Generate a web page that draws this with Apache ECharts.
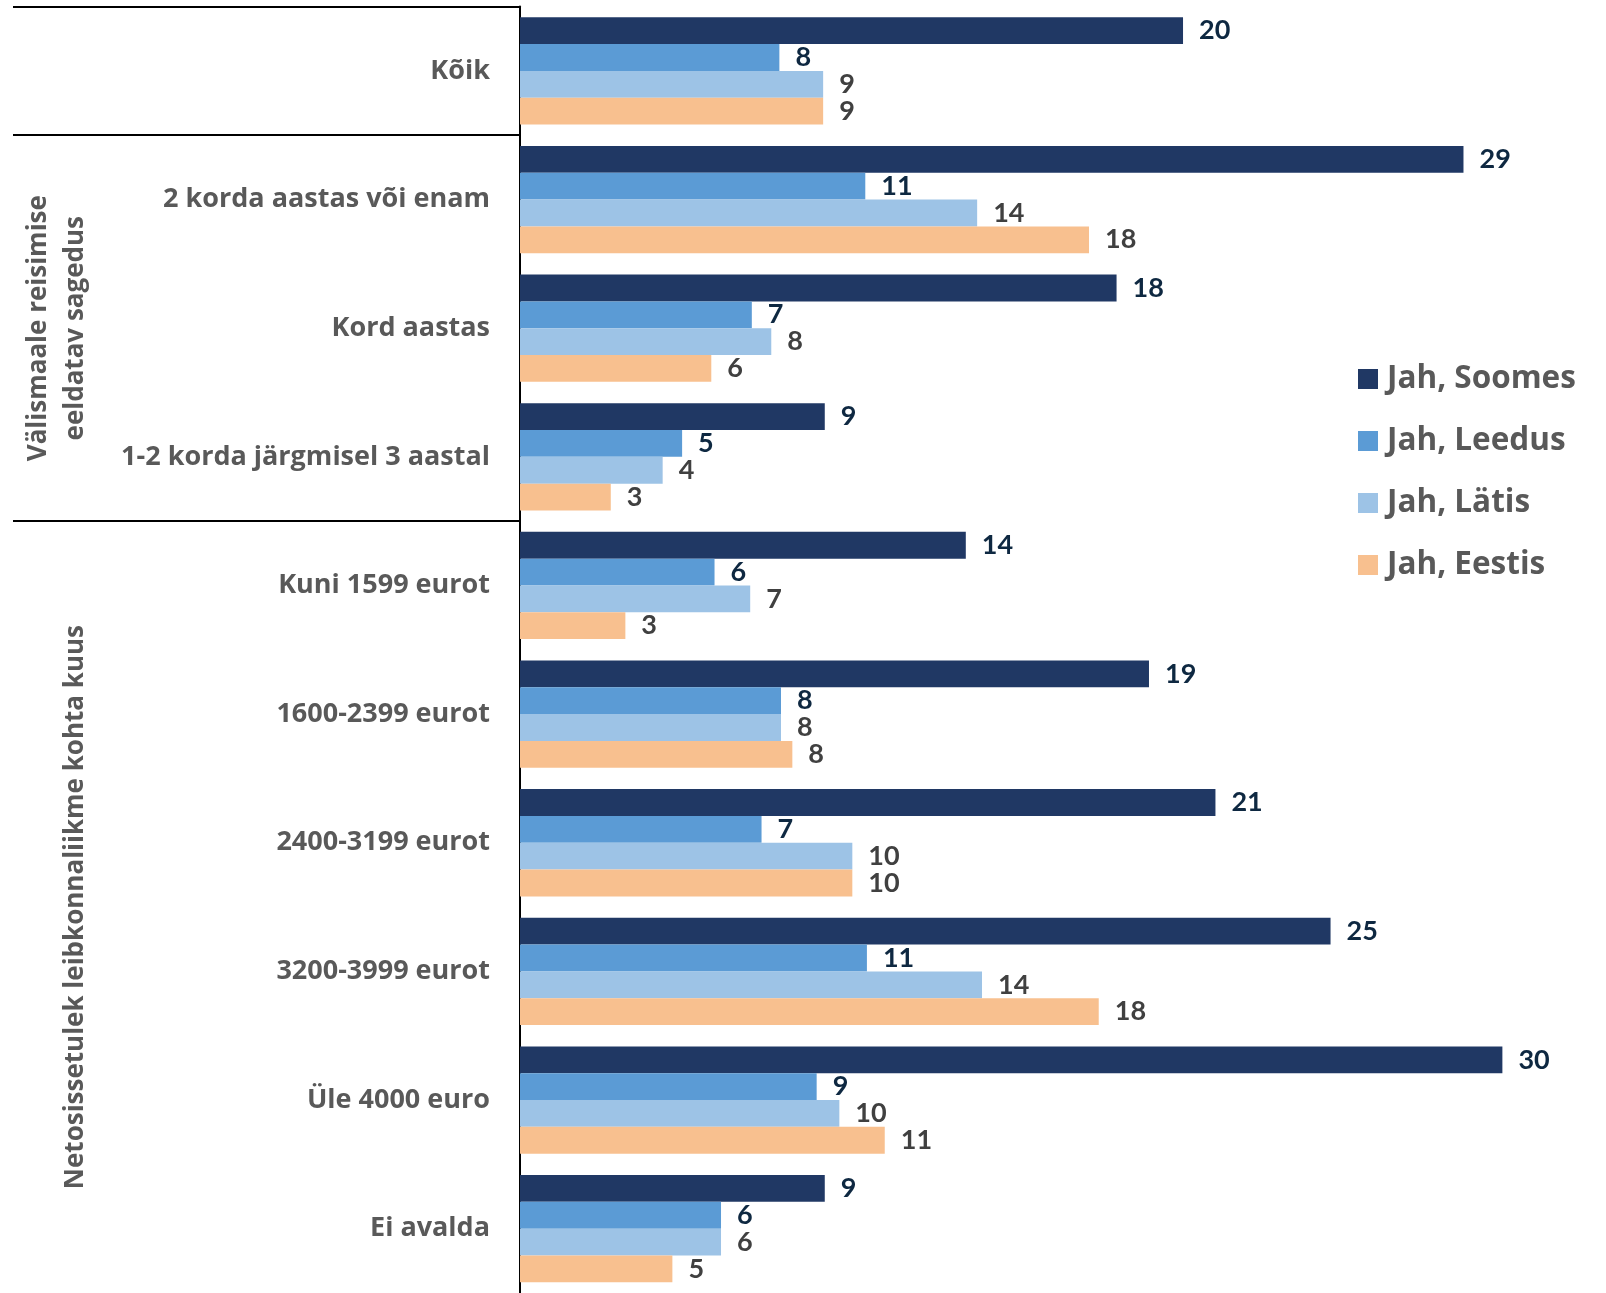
<!DOCTYPE html>
<html><head><meta charset="utf-8">
<script src="https://cdn.jsdelivr.net/npm/echarts@6/dist/echarts.min.js"></script>
<style>html,body{margin:0;padding:0;background:#fff}#c{width:1606px;height:1293px}</style>
</head><body><div id="c"></div>
<script>
const categories = ["Kõik", "2 korda aastas või enam", "Kord aastas", "1-2 korda järgmisel 3 aastal",
  "Kuni 1599 eurot", "1600-2399 eurot", "2400-3199 eurot", "3200-3999 eurot", "Üle 4000 euro", "Ei avalda"];
const seriesNames = ["Jah, Soomes", "Jah, Leedus", "Jah, Lätis", "Jah, Eestis"];
const soomes = [20.45, 29.1, 18.4, 9.4, 13.75, 19.4, 21.45, 25.0, 30.3, 9.4];
const leedus = [8.0, 10.65, 7.15, 5.0, 6.0, 8.05, 7.45, 10.7, 9.15, 6.2];
const latis  = [9.35, 14.1, 7.75, 4.4, 7.1, 8.05, 10.25, 14.25, 9.85, 6.2];
const eestis = [9.35, 17.55, 5.9, 2.8, 3.25, 8.4, 10.25, 17.85, 11.25, 4.7];
const groupTitles = ["Välismaale reisimise\neeldatav sagedus", "Netosissetulek leibkonnaliikme kohta kuus"];
const groupRanges = [[1, 3], [4, 9]];

const colors = ["#203864", "#5b9bd5", "#9dc3e6", "#f8c08f"];
const labelColors = ["#0e2841", "#0e2841", "#404040", "#404040"];
const valueSets = [soomes, leedus, latis, eestis];

const chart = echarts.init(document.getElementById('c'), null, {renderer: 'canvas'});
const option = {
  animation: false,
  backgroundColor: '#ffffff',
  grid: {left: 520, top: 6.6, bottom: -4.3, right: 48.5, containLabel: false},
  xAxis: {type: 'value', min: 0, max: 32, show: false},
  yAxis: {
    type: 'category', data: categories, inverse: true,
    axisLine: {show: true, lineStyle: {color: '#000', width: 2}},
    axisTick: {show: false},
    axisLabel: {margin: 30, fontFamily: 'Open Sans', fontWeight: 'bold', fontSize: 27, color: '#595959'}
  },
  legend: {
    orient: 'vertical', left: 1353, top: 354, itemWidth: 20, itemHeight: 20, itemGap: 22,
    icon: 'rect',
    textStyle: {fontFamily: 'Open Sans', fontWeight: 'bold', fontSize: 31.5, color: '#595959', lineHeight: 40, padding: [0, 0, 0, 4]},
    data: seriesNames
  },
  series: seriesNames.map((name, i) => ({
    name, type: 'bar', data: valueSets[i],
    barGap: '0%', barCategoryGap: '16.6%',
    itemStyle: {color: colors[i]},
    label: {
      show: true, position: 'right', distance: 16,
      formatter: p => Math.round(p.value),
      fontFamily: 'Lato', fontWeight: 'bold', fontSize: 27, color: labelColors[i]
    }
  }))
};
chart.setOption(option);

// separators and group titles derived from the category axis
const px = c => chart.convertToPixel({yAxisIndex: 0}, c);
const step = px(categories[1]) - px(categories[0]);
const boundaryTop = i => px(categories[i]) - step / 2;
const axisX = chart.convertToPixel({xAxisIndex: 0}, 0);
const graphics = [];
[0, 1, 4].forEach(i => {
  const y = Math.round(boundaryTop(i));
  graphics.push({type: 'line', shape: {x1: 13, y1: y, x2: axisX, y2: y}, style: {stroke: '#000', lineWidth: 2}, z: 10});
});
const titleX = [57, 76];
groupRanges.forEach((r, k) => {
  const yc = (boundaryTop(r[0]) + boundaryTop(r[1]) + step) / 2;
  graphics.push({
    type: 'text', x: titleX[k], y: yc, rotation: Math.PI / 2,
    style: {text: groupTitles[k], font: 'bold 26px "Open Sans"', fill: '#595959', align: 'center', verticalAlign: 'middle', lineHeight: 37}
  });
});
chart.setOption({graphic: graphics});
</script>
</body></html>
